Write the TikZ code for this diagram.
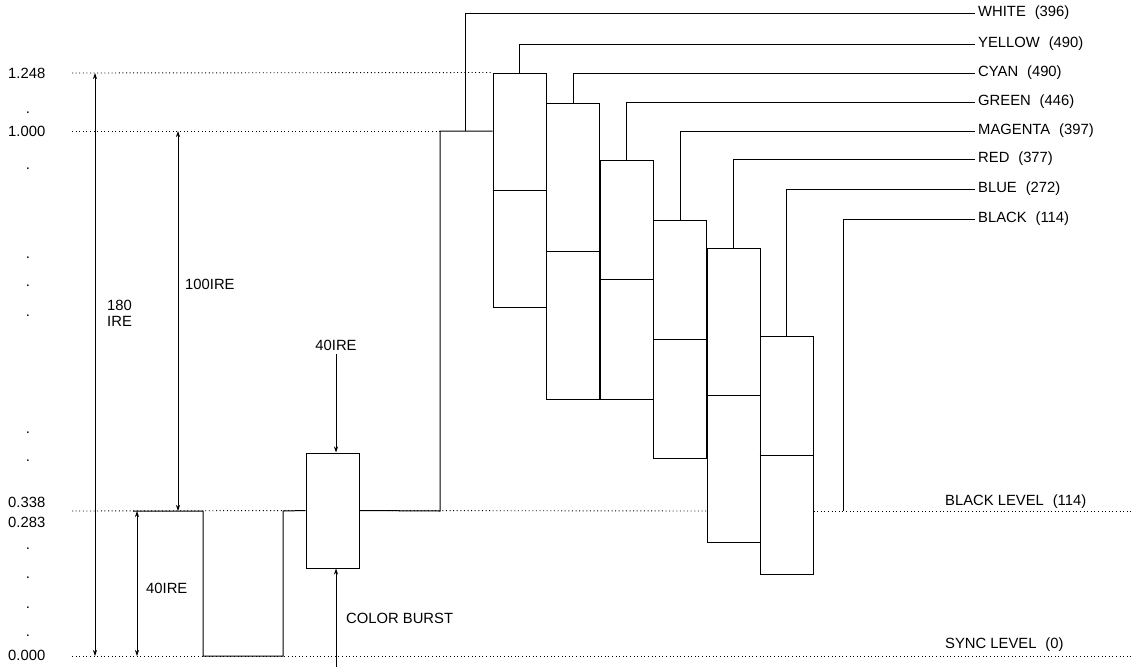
\documentclass[tikz,border=0pt]{standalone}
\usepackage{fontspec}
\setmainfont{Liberation Sans}
\usepackage{tikz}
\usetikzlibrary{arrows,arrows.meta,positioning}
\newcommand{\barlabel}[2]{#1\hspace{.6em}(#2)}

\begin{document}
\begin{tikzpicture}[x=1pt, y=-1pt, font=\fontsize{14.8}{16}\selectfont,
    bar/.style={rectangle, draw, line width=1pt, minimum width=53pt, inner sep=0pt},
    sig/.style={line width=1pt},
    level/.style={line width=0.9pt, dash pattern=on 1pt off 2.6pt},
    dim/.style={{Stealth[length=6pt,width=4pt]}-{Stealth[length=6pt,width=4pt]}, line width=0.7pt},
    note/.style={-{Stealth[length=6pt,width=4pt]}, line width=0.7pt},
    lbl/.style={anchor=west, inner sep=3pt},
    tick/.style={anchor=base, inner sep=0pt}]

    \useasboundingbox (0,0) rectangle (1132,667);

    % levels
    \coordinate (lv1248) at (72,73);
    \coordinate (lv1000) at (72,131);
    \coordinate (lvblack) at (72,511);
    \coordinate (lvsync) at (72,656);

    % axis
    \node [lbl] (a1248) at (5,73) {1.248};
    \node [lbl] (a1000) at (5,131) {1.000};
    \node [lbl] (a0338) at (5,502) {0.338};
    \node [lbl] (a0283) at (5,522) {0.283};
    \node [lbl] (a0000) at (5,655) {0.000};
    \node [tick] at (28,113) {.};
    \node [tick] at (28,169) {.};
    \node [tick] at (28,258) {.};
    \node [tick] at (28,286) {.};
    \node [tick] at (28,316) {.};
    \node [tick] at (28,433) {.};
    \node [tick] at (28,461) {.};
    \node [tick] at (28,549) {.};
    \node [tick] at (28,578) {.};
    \node [tick] at (28,608) {.};
    \node [tick] at (28,636) {.};

    % color bars
    \node [bar, minimum height=234pt] (yellow) at (519.5,190) {};
    \node [bar, minimum height=296pt] (cyan) at (573,251) {};
    \node [bar, minimum height=239pt] (green) at (626.5,279.5) {};
    \node [bar, minimum height=238pt] (magenta) at (680,339) {};
    \node [bar, minimum height=294pt] (red) at (733.5,395) {};
    \node [bar, minimum height=238pt] (blue) at (786.5,455) {};
    \node [bar, minimum height=115pt] (burst) at (332.5,510.5) {};

    \draw [sig] (yellow.west) -- (yellow.east);
    \draw [sig] (cyan.west) -- (cyan.east);
    \draw [sig] (green.west) -- (green.east);
    \draw [sig] (magenta.west) -- (magenta.east);
    \draw [sig] (red.west) -- (red.east);
    \draw [sig] (blue.west) -- (blue.east);

    % dotted levels
    \draw [level] (lv1248) -- (yellow.north west);
    \draw [level] (lv1000) -- (440,131);
    \draw [level] (lvblack) -- (burst.west);
    \draw [level] (burst.east) -- (red.west |- lvblack);
    \draw [level] (blue.east |- lvblack) -- (1132,511);
    \draw [level] (lvsync) -- (1132,656);

    % waveform
    \coordinate (whitept) at (465,131);
    \coordinate (blackpt) at (843,511);
    \draw [sig] (133,511) -- (203,511) -- (203,656) -- (283,656) -- (283,511) -- (burst.west);
    \draw [sig] (burst.east) -- (440,511) -- (440,131) -- (yellow.west |- whitept);

    % bar labels
    \node [lbl] (lwhite) at (975,13) {\barlabel{WHITE}{396}};
    \node [lbl] (lyellow) at (975,44) {\barlabel{YELLOW}{490}};
    \node [lbl] (lcyan) at (975,73) {\barlabel{CYAN}{490}};
    \node [lbl] (lgreen) at (975,102) {\barlabel{GREEN}{446}};
    \node [lbl] (lmagenta) at (975,131) {\barlabel{MAGENTA}{397}};
    \node [lbl] (lred) at (975,159) {\barlabel{RED}{377}};
    \node [lbl] (lblue) at (975,189) {\barlabel{BLUE}{272}};
    \node [lbl] (lblack) at (975,219) {\barlabel{BLACK}{114}};

    \draw [sig] (whitept) |- (lwhite.west);
    \draw [sig] (yellow.north) |- (lyellow.west);
    \draw [sig] (cyan.north) |- (lcyan.west);
    \draw [sig] (green.north) |- (lgreen.west);
    \draw [sig] (magenta.north) |- (lmagenta.west);
    \draw [sig] (red.north) |- (lred.west);
    \draw [sig] (blue.north) |- (lblue.west);
    \draw [sig] (blackpt) |- (lblack.west);

    \node [lbl] (lblacklvl) at (942,502) {\barlabel{BLACK LEVEL}{114}};
    \node [lbl] (lsync) at (942,645) {\barlabel{SYNC LEVEL}{0}};

    % IRE spans
    \coordinate (d180t) at (95,73);
    \coordinate (d180b) at (95,656);
    \coordinate (d100t) at (178,131);
    \coordinate (d100b) at (178,511);
    \coordinate (d40t) at (137,511);
    \coordinate (d40b) at (137,656);
    \draw [dim] (d180t) -- (d180b);
    \draw [dim] (d100t) -- (d100b);
    \draw [dim] (d40t) -- (d40b);
    \node [lbl, align=left] (t180) at (104,313) {180\\IRE};
    \node [lbl] (t100) at (182,284) {100IRE};
    \node [lbl] (t40) at (143,588) {40IRE};

    % burst notes
    \node (tburst) at (336,345) {40IRE};
    \coordinate (cbfoot) at (336,667);
    \node [lbl] (tcolor) at (343,618) {COLOR BURST};
    \draw [note] (tburst.south) -- (tburst.south |- burst.north);
    \draw [note] (cbfoot) -- (cbfoot |- burst.south);
\end{tikzpicture}
\end{document}
